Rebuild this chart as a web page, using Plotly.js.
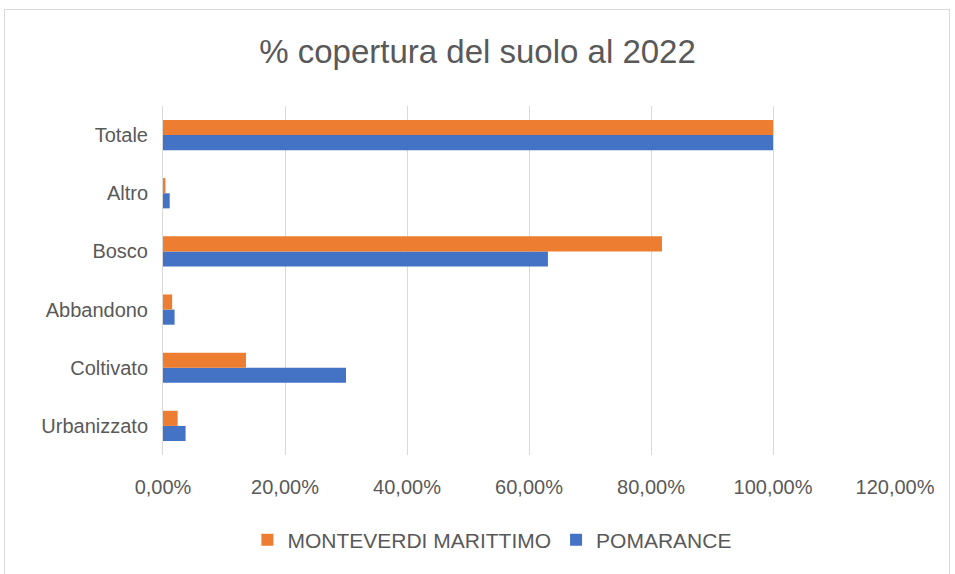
<!DOCTYPE html>
<html>
<head>
<meta charset="utf-8">
<script src="https://cdn.plot.ly/plotly-3.0.1.min.js"></script>
<style>
html,body{margin:0;padding:0;background:#fff;}
#wrap{position:relative;width:955px;height:574px;}
#chart{width:955px;height:574px;}
#frame{position:absolute;left:4px;top:9px;width:946px;height:570px;border:1px solid #d9d9d9;pointer-events:none;box-sizing:border-box;}
</style>
</head>
<body>
<div id="wrap"><div id="chart"></div><div id="frame"></div></div>
<script>
const categories = ["Urbanizzato", "Coltivato", "Abbandono", "Bosco", "Altro", "Totale"];
const monteverdi = [2.4, 13.6, 1.5, 81.8, 0.4, 100];
const pomarance = [3.7, 30.0, 1.9, 63.1, 1.1, 100];
const xTicks = [0, 20, 40, 60, 80, 100, 120];
const xTickLabels = ["0,00%", "20,00%", "40,00%", "60,00%", "80,00%", "100,00%", "120,00%"];

const font = "Liberation Sans, Arial, sans-serif";
const traces = [
  {type: "bar", orientation: "h", name: "POMARANCE", y: categories, x: pomarance,
   marker: {color: "#4472C4"}, hoverinfo: "x+y"},
  {type: "bar", orientation: "h", name: "MONTEVERDI MARITTIMO", y: categories, x: monteverdi,
   marker: {color: "#ED7D31"}, hoverinfo: "x+y"}
];
const layout = {
  width: 955, height: 574,
  margin: {l: 163, r: 60, t: 106, b: 119},
  paper_bgcolor: "#ffffff", plot_bgcolor: "#ffffff",
  barmode: "group", bargap: 0.48, bargroupgap: 0,
  title: {text: "% copertura del suolo al 2022", x: 0.5, xanchor: "center", y: 0.91, yanchor: "middle",
          font: {family: font, size: 33, color: "#595959"}},
  xaxis: {range: [0, 120], tickvals: xTicks, ticktext: xTickLabels, showgrid: true,
          gridcolor: "#d9d9d9", gridwidth: 1, zeroline: false, showline: false, ticks: "",
          ticklabelstandoff: 18,
          tickfont: {family: font, size: 20, color: "#595959"}, fixedrange: true},
  yaxis: {type: "category", showgrid: false, zeroline: false, showline: true, linecolor: "#d9d9d9",
          linewidth: 1, ticks: "", ticklabelstandoff: 10,
          tickfont: {family: font, size: 20, color: "#595959"}, fixedrange: true},
  legend: {orientation: "h", traceorder: "reversed", x: 0.45, xanchor: "center", y: -0.185, yanchor: "top",
           font: {family: font, size: 21, color: "#595959"}, itemwidth: 30},
  showlegend: true
};
Plotly.newPlot("chart", traces, layout, {displayModeBar: false, staticPlot: true});
</script>
</body>
</html>
